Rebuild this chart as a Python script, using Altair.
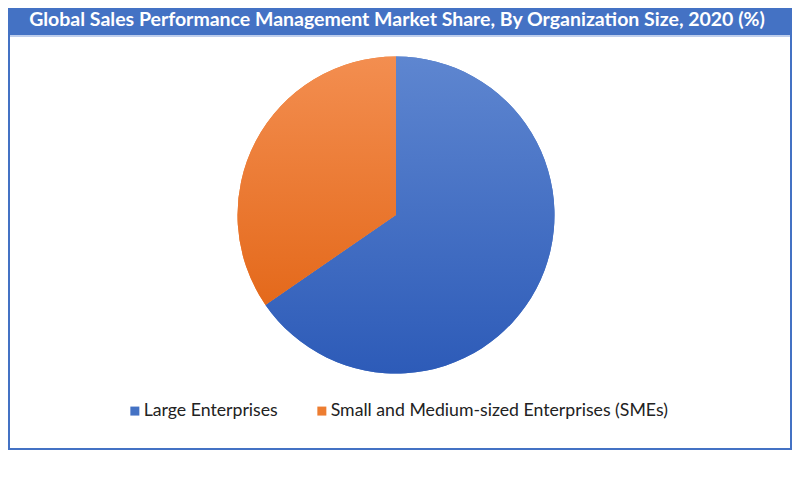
import altair as alt
import pandas as pd

categories = ["Large Enterprises", "Small and Medium-sized Enterprises (SMEs)"]
shares = [65.4, 34.6]
solid_colors = ["#4472C4", "#ED7D31"]
title_text = "Global Sales Performance Management Market Share, By Organization Size, 2020 (%)"

df = pd.DataFrame({"category": categories, "share": shares, "order": [0, 1]})
one = pd.DataFrame({"k": [0]})

W, H = 784, 442
CX, CY, R = 388, 207, 158.5

blue_grad = {
    "gradient": "linear", "x1": 0, "y1": 0, "x2": 0, "y2": 1,
    "stops": [{"offset": 0, "color": "#5E86D0"}, {"offset": 1, "color": "#2D5BB8"}],
}
orange_grad = {
    "gradient": "linear", "x1": 0, "y1": 0, "x2": 0, "y2": 1,
    "stops": [{"offset": 0, "color": "#F38E50"}, {"offset": 1, "color": "#E4691B"}],
}

frame = alt.Chart(one).mark_rect(fill="white", stroke="#4472C4", strokeWidth=2).encode(
    x=alt.value(1), x2=alt.value(783), y=alt.value(0), y2=alt.value(441)
)
bar = alt.Chart(one).mark_rect(fill="#4472C4").encode(
    x=alt.value(0), x2=alt.value(783), y=alt.value(0), y2=alt.value(27)
)
bar_line = alt.Chart(one).mark_rule(color="#A9BEE6", strokeWidth=1.5).encode(
    x=alt.value(2), x2=alt.value(782), y=alt.value(28)
)
title = alt.Chart(one).mark_text(
    text=title_text, font="Lato", fontSize=19.5, fontWeight="bold", color="white",
    align="center", baseline="middle",
).encode(x=alt.value(389), y=alt.value(12))

base_pie = alt.Chart(df).mark_arc(radius=R, stroke=None).encode(
    theta=alt.Theta("share:Q", stack=True),
    order=alt.Order("order:Q"),
    color=alt.Color(
        "category:N",
        scale=alt.Scale(domain=categories, range=solid_colors),
        legend=alt.Legend(
            title=None, orient="none", legendX=118, legendY=394, direction="horizontal",
            symbolType="square", symbolSize=81, symbolStrokeWidth=0,
            labelFont="Lato", labelFontSize=17.7, labelColor="#222222", labelLimit=0,
            columnPadding=35, symbolOffset=0, labelOffset=0,
        ),
    ),
    x=alt.value(CX), y=alt.value(CY),
)

grad_pie = alt.Chart(df).mark_arc(radius=R, stroke=None).encode(
    theta=alt.Theta("share:Q", stack=True),
    order=alt.Order("order:Q"),
    fill=alt.condition(
        "datum.category == 'Large Enterprises'", alt.value(blue_grad), alt.value(orange_grad)
    ),
    x=alt.value(CX), y=alt.value(CY),
)

chart = alt.layer(frame, bar, bar_line, title, base_pie, grad_pie).properties(
    width=W, height=H, padding=0, autosize="none"
).configure_view(stroke=None)

chart.save("out.html", embed_options={"renderer": "svg", "actions": False})
